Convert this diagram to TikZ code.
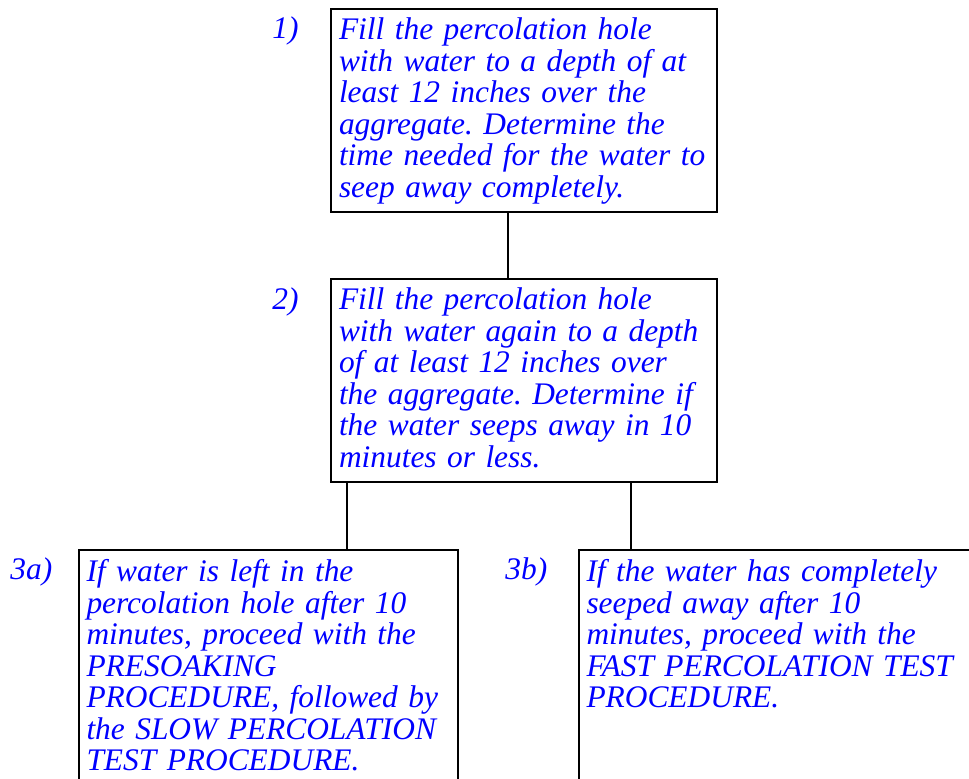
\documentclass[tikz,border=0pt]{standalone}
\usepackage{fontspec}
\setmainfont{Liberation Serif}
\usepackage{tikz}
\usetikzlibrary{positioning}

\begin{document}
\begin{tikzpicture}[x=0.5pt, y=-0.5pt,
		stepbox/.style={draw, line width=1pt, anchor=north west, align=left,
		inner xsep=4pt, inner ysep=4.6pt, text depth=81.4pt, text=blue,
		font=\fontsize{15.7}{15.75}\selectfont\itshape\frenchspacing},
		steplabel/.style={anchor=base west, inner sep=0pt, text=blue,
		font=\fontsize{15.7}{15.75}\selectfont\itshape}]

	\useasboundingbox (0,0) rectangle (969,779);
	\clip (0,0) rectangle (969,779);

	\node[stepbox, text width=185pt] (one) at (330,8)
		{Fill the percolation hole\\with water to a depth of at\\least 12 inches over the\\aggregate. Determine the\\time needed for the water to\\seep away completely.};
	\node[stepbox, text width=185pt] (two) at (330,278)
		{Fill the percolation hole\\with water again to a depth\\of at least 12 inches over\\the aggregate. Determine if\\the water seeps away in 10\\minutes or less.};
	\node[stepbox, text width=181.5pt, text depth=120pt] (threea) at (77.5,549.5)
		{If water is left in the\\percolation hole after 10\\minutes, proceed with the\\PRESOAKING\\PROCEDURE, followed by\\the SLOW PERCOLATION\\TEST PROCEDURE.};
	\node[stepbox, text width=200pt, text depth=130pt] (threeb) at (577.5,549.5)
		{If the water has completely\\seeped away after 10\\minutes, proceed with the\\FAST PERCOLATION TEST\\PROCEDURE.};

	\node[steplabel] (l1) at (272,39) {1)};
	\node[steplabel] (l2) at (272,310) {2)};
	\node[steplabel] (l3a) at (10,580) {3a)};
	\node[steplabel] (l3b) at (505,580) {3b)};

	\draw[line width=1pt] ([xshift=89pt]one.south west) -- ([xshift=89pt]one.south west |- two.north);
	\draw[line width=1pt] ([xshift=8.5pt]two.south west) -- ([xshift=8.5pt]two.south west |- threea.north);
	\draw[line width=1pt] ([xshift=150.5pt]two.south west) -- ([xshift=150.5pt]two.south west |- threeb.north);
\end{tikzpicture}
\end{document}
